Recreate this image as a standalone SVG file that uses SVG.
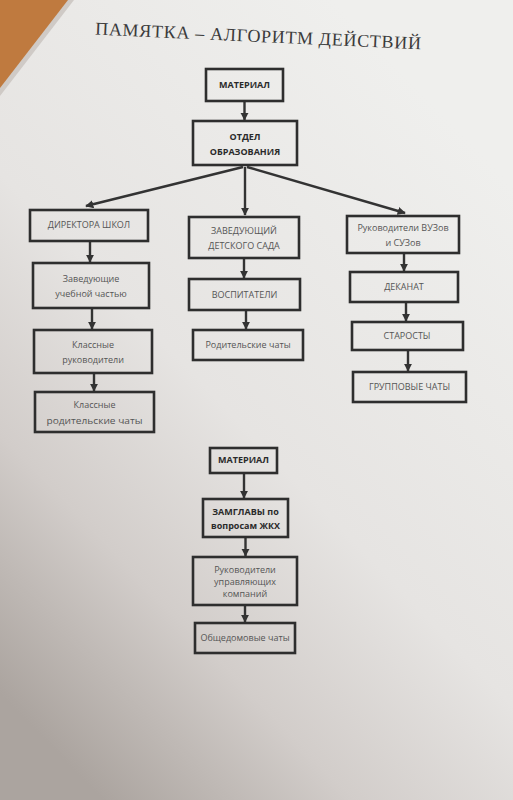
<svg xmlns="http://www.w3.org/2000/svg" width="513" height="800" viewBox="0 0 513 800">
<style>
.box{fill:none;stroke:#2e2e2e;stroke-width:2.6}
.t{font-family:"Open Sans","Noto Sans",sans-serif;font-size:9px;fill:#555;text-anchor:middle}
.b{font-weight:bold;fill:#2a2a2a}
.c{stroke:#333;stroke-width:2.4;fill:none;marker-end:url(#ah)}
</style>
<defs>
<linearGradient id="bg" x1="0.8" y1="0.1" x2="0.2" y2="1">
<stop offset="0" stop-color="#efefed"/>
<stop offset="0.5" stop-color="#e6e4e2"/>
<stop offset="0.75" stop-color="#d2cdca"/>
<stop offset="1" stop-color="#aba49f"/>
</linearGradient>
<marker id="ah" viewBox="0 0 10 10" refX="9" refY="5" markerWidth="3.4" markerHeight="3.4" orient="auto" markerUnits="strokeWidth">
<path d="M0,0 L10,5 L0,10 Z" fill="#333"/>
</marker>
</defs>
<rect width="513" height="800" fill="url(#bg)"/>
<polygon points="0,0 74,0 0,96" fill="#cfcac6"/>
<polygon points="0,0 68,0 0,88" fill="#bf7a3f"/>
<text x="258" y="42" transform="rotate(2.6 258 38)" font-family="Liberation Serif,serif" font-size="18" fill="#3b3b3b" text-anchor="middle" textLength="326">ПАМЯТКА – АЛГОРИТМ ДЕЙСТВИЙ</text>
<g id="connectors">
<line class="c" x1="244.5" y1="102" x2="244.5" y2="120"/>
<line class="c" x1="243" y1="167" x2="86" y2="206"/>
<line class="c" x1="245" y1="167" x2="245" y2="215"/>
<line class="c" x1="247" y1="167" x2="405" y2="213"/>
<line class="c" x1="90" y1="242" x2="90" y2="262"/>
<line class="c" x1="92" y1="309" x2="92" y2="329"/>
<line class="c" x1="94" y1="374" x2="94" y2="391"/>
<line class="c" x1="244" y1="259" x2="244" y2="278"/>
<line class="c" x1="246" y1="311" x2="246" y2="329"/>
<line class="c" x1="404" y1="254" x2="404" y2="271"/>
<line class="c" x1="406" y1="303" x2="406" y2="321"/>
<line class="c" x1="408" y1="351" x2="408" y2="371"/>
<line class="c" x1="244" y1="474" x2="244" y2="498"/>
<line class="c" x1="245.5" y1="538" x2="245.5" y2="556"/>
<line class="c" x1="245" y1="606" x2="245" y2="622"/>
</g>
<g id="mat1"><rect class="box" x="206" y="69" width="77" height="32"/><text class="t b" x="244.5" y="88">МАТЕРИАЛ</text></g>
<g id="otdel"><rect class="box" x="193" y="121" width="104" height="44"/><text class="t b" x="245" y="140">ОТДЕЛ</text><text class="t b" x="245" y="155">ОБРАЗОВАНИЯ</text></g>
<g id="dir"><rect class="box" x="30" y="210" width="118" height="31"/><text class="t" x="89" y="228">ДИРЕКТОРА ШКОЛ</text></g>
<g id="zavuch"><rect class="box" x="33" y="263" width="116" height="45"/><text class="t" x="91" y="282">Заведующие</text><text class="t" x="91" y="297">учебной частью</text></g>
<g id="klruk"><rect class="box" x="34" y="330" width="118" height="43"/><text class="t" x="93" y="348">Классные</text><text class="t" x="93" y="363">руководители</text></g>
<g id="klchat"><rect class="box" x="35" y="392" width="119" height="40"/><text class="t" x="94.5" y="408">Классные</text><text class="t" x="94.5" y="424" textLength="96" lengthAdjust="spacingAndGlyphs">родительские чаты</text></g>
<g id="zavds"><rect class="box" x="189" y="217" width="110" height="41"/><text class="t" x="244" y="234">ЗАВЕДУЮЩИЙ</text><text class="t" x="244" y="249">ДЕТСКОГО САДА</text></g>
<g id="vosp"><rect class="box" x="189" y="279" width="111" height="31"/><text class="t" x="244.5" y="298">ВОСПИТАТЕЛИ</text></g>
<g id="rodchat"><rect class="box" x="193" y="330" width="110" height="30"/><text class="t" x="248" y="348">Родительские чаты</text></g>
<g id="rukvuz"><rect class="box" x="347" y="216" width="112" height="37"/><text class="t" x="403" y="231">Руководители ВУЗов</text><text class="t" x="403" y="246">и СУЗов</text></g>
<g id="dekanat"><rect class="box" x="350" y="272" width="108" height="30"/><text class="t" x="404" y="290">ДЕКАНАТ</text></g>
<g id="starosty"><rect class="box" x="352" y="322" width="111" height="28"/><text class="t" x="407" y="339">СТАРОСТЫ</text></g>
<g id="grchat"><rect class="box" x="353" y="372" width="113" height="30"/><text class="t" x="409.5" y="390">ГРУППОВЫЕ ЧАТЫ</text></g>
<g id="mat2"><rect class="box" x="210" y="448" width="67" height="25"/><text class="t b" x="243.5" y="463">МАТЕРИАЛ</text></g>
<g id="zamglavy"><rect class="box" x="203" y="499" width="85" height="38"/><text class="t b" x="245.5" y="515">ЗАМГЛАВЫ по</text><text class="t b" x="245.5" y="529">вопросам ЖКХ</text></g>
<g id="rukuk"><rect class="box" x="193" y="557" width="104" height="48"/><text class="t" x="245" y="573">Руководители</text><text class="t" x="245" y="585">управляющих</text><text class="t" x="245" y="597">компаний</text></g>
<g id="obsh"><rect class="box" x="195" y="623" width="100" height="30"/><text class="t" x="245" y="641">Общедомовые чаты</text></g>
</svg>
